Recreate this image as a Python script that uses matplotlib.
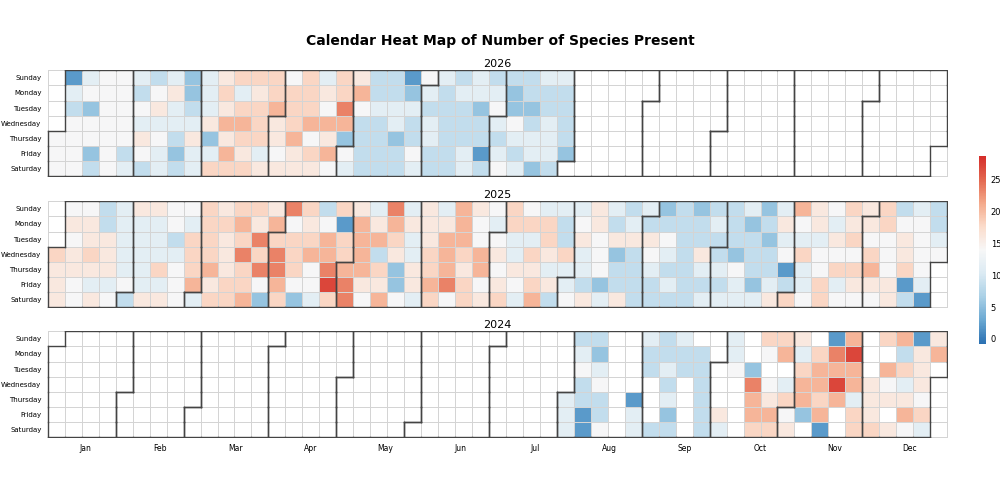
import datetime as dt
import numpy as np
import matplotlib
matplotlib.use("Agg")
import matplotlib.pyplot as plt
from matplotlib.colors import LinearSegmentedColormap, ListedColormap

# colour codes -> approximate species counts
code_values = {"A": 2, "B": 5.5, "C": 8.5, "D": 11.3, "W": 13.8, "e": 16,
               "f": 18, "g": 20.5, "h": 23.5, "R": 27}

day_names = ["Sunday", "Monday", "Tuesday", "Wednesday", "Thursday", "Friday", "Saturday"]
month_names = ["Jan", "Feb", "Mar", "Apr", "May", "Jun",
               "Jul", "Aug", "Sep", "Oct", "Nov", "Dec"]

# one string per week column, Sunday..Saturday; '.' = no data, '_' = outside year
weeks_2026 = [
    "____WWW", "ADCWWWW", "DWBWWBC", "WWWWWWW", "WWWWWCD", "DCWDeWC", "CWeDWDD",
    "DeDDCBC", "BBCDeDD", "DDDeBDf", "efegegf", "fDfgfef", "fefffDe", "ffgeeWe",
    "Wfffgee", "fffgWfe", "DeWgegW", "ffhgBWD", "egWCCCC", "CCDCCCC", "CCDDBCC",
    "ABDCCWD", "WDCDDCC", "DCCCCCC", "CDCCCDD", "DDBCCAC", "CDWDCDW", "CBBWDCD",
    "CCBCDDB", "DCCDDDC", "DCCCCB.",
]
weeks_2025 = [
    "___feee", "WeWeeWW", "WeefeDe", "CCeeeDW", "DDDDDWC", "eDDDDDe", "eDDDfDe",
    "WWCDWWW", "WDfffgD", "ffffgef", "efeeeff", "fgfhffg", "fehfhWB", "egfhhgf",
    "hWfffWB", "fefgWWD", "CWgghRf", "fAffghh", "eggggeW", "DegCfeg", "hgfeBBW",
    "DeDDeeD", "eeeffgf", "DeggghW", "gggfeff", "eWWggWe", "WDWeWef", "ffDDeWD",
    "WfDfefg", "DffeDeC", "DCCfDDW", "DWeDDCe", "eeWWWBD", "DCeBCCe", "CDeCCCC",
    "DCeWDCC", "BCWDCDC", "CCCCCCC", "BCCeDCD", "CDCCDCD", "CCCBWDD", "DBCCCBD",
    "BCBCCDe", "DeDWACf", "gWDfDDW", "eeDWWff", "WDeWfDW", "fefWfeW", "eeWfgeW",
    "ffWWWee", "CWeefAC", "DWWWWDA", "CCDW___",
]
weeks_2024 = ["......."] * 30 + [
    "....DDD", "CDWCCAA", "CBDWCCW", ".......", "....ADD", "DCC...C", "CCDCDBC",
    "DCC....", ".CCCCCC", ".....eD", "DDW....", "..Bhggf", "fW.Wegf", "fg.DfWe",
    "eDfggB.", ".fggfgA", "AhgRg..", "gRggDff", "...eeef", "f.gWe.e", "gCfDegW",
    "AeeeWfD", "eg.....",
]
years = [2026, 2025, 2024]
year_weeks = {2026: weeks_2026, 2025: weeks_2025, 2024: weeks_2024}


def year_grid(year, weeks):
    vals = np.full((7, 53), np.nan)
    inyear = np.zeros((7, 53), bool)
    month = np.full((7, 53), -1)
    start = dt.date(year, 1, 1)
    offset = (start.weekday() + 1) % 7
    d = start
    while d.year == year:
        doy = (d - start).days
        c = (doy + offset) // 7
        r = (d.weekday() + 1) % 7
        inyear[r, c] = True
        month[r, c] = d.month
        if c < len(weeks):
            ch = weeks[c][r]
            if ch in code_values:
                vals[r, c] = code_values[ch]
        d += dt.timedelta(days=1)
    return vals, inyear, month


fig = plt.figure(figsize=(10, 5), dpi=100)
fig.text(0.5, 0.918, "Calendar Heat Map of Number of Species Present",
         ha="center", va="center", fontsize=10, fontweight="bold")

cmap = LinearSegmentedColormap.from_list("rdbu_soft", [
    "#2a70b2", "#6aa8d2", "#a9d0e6", "#dbeaf3", "#f7f7f7",
    "#fbdccb", "#f4a98a", "#e3674f", "#d52d2a"])
bottoms = [0.646, 0.384, 0.124]
mesh = None
for year, y0 in zip(years, bottoms):
    ax = fig.add_axes([0.047, y0, 0.901, 0.215])
    vals, inyear, month = year_grid(year, year_weeks[year])
    bg = np.where(inyear, 0.0, np.nan)
    ax.pcolormesh(np.arange(54), np.arange(8), np.ma.masked_invalid(bg),
                  cmap=ListedColormap(["white"]),
                  edgecolors="#d4d4d4", linewidth=0.5)
    mesh = ax.pcolormesh(np.arange(54), np.arange(8), np.ma.masked_invalid(vals),
                         cmap=cmap, vmin=-0.8, vmax=28.7, edgecolors="#d4d4d4", linewidth=0.5)
    # month outlines
    for r in range(7):
        for c in range(53):
            m = month[r, c]
            if m < 0:
                continue
            if r == 0 or month[r - 1, c] != m:
                ax.plot([c, c + 1], [r, r], color="#444444", lw=1.0)
            if r == 6 or month[r + 1, c] != m:
                ax.plot([c, c + 1], [r + 1, r + 1], color="#444444", lw=1.0)
            if c == 0 or month[r, c - 1] != m:
                ax.plot([c, c], [r, r + 1], color="#444444", lw=1.0)
            if c == 52 or month[r, c + 1] != m:
                ax.plot([c + 1, c + 1], [r, r + 1], color="#444444", lw=1.0)
    ax.set_xlim(-0.05, 53.05)
    ax.set_ylim(7.05, -0.05)
    for s in ax.spines.values():
        s.set_visible(False)
    ax.set_yticks(np.arange(7) + 0.5)
    ax.set_yticklabels(day_names, fontsize=5)
    ax.tick_params(length=0, pad=4)
    ax.set_title(str(year), fontsize=8, pad=2)
    if year == 2024:
        ax.set_xticks((np.arange(12) + 0.5) * 53 / 12)
        ax.set_xticklabels(month_names, fontsize=5.5)
    else:
        ax.set_xticks([])

cax = fig.add_axes([0.979, 0.312, 0.007, 0.376])
cb = fig.colorbar(mesh, cax=cax, ticks=[0, 5, 10, 15, 20, 25])
cb.outline.set_visible(False)
cb.ax.tick_params(labelsize=6, length=0)

fig.savefig("out.png", dpi=100)
